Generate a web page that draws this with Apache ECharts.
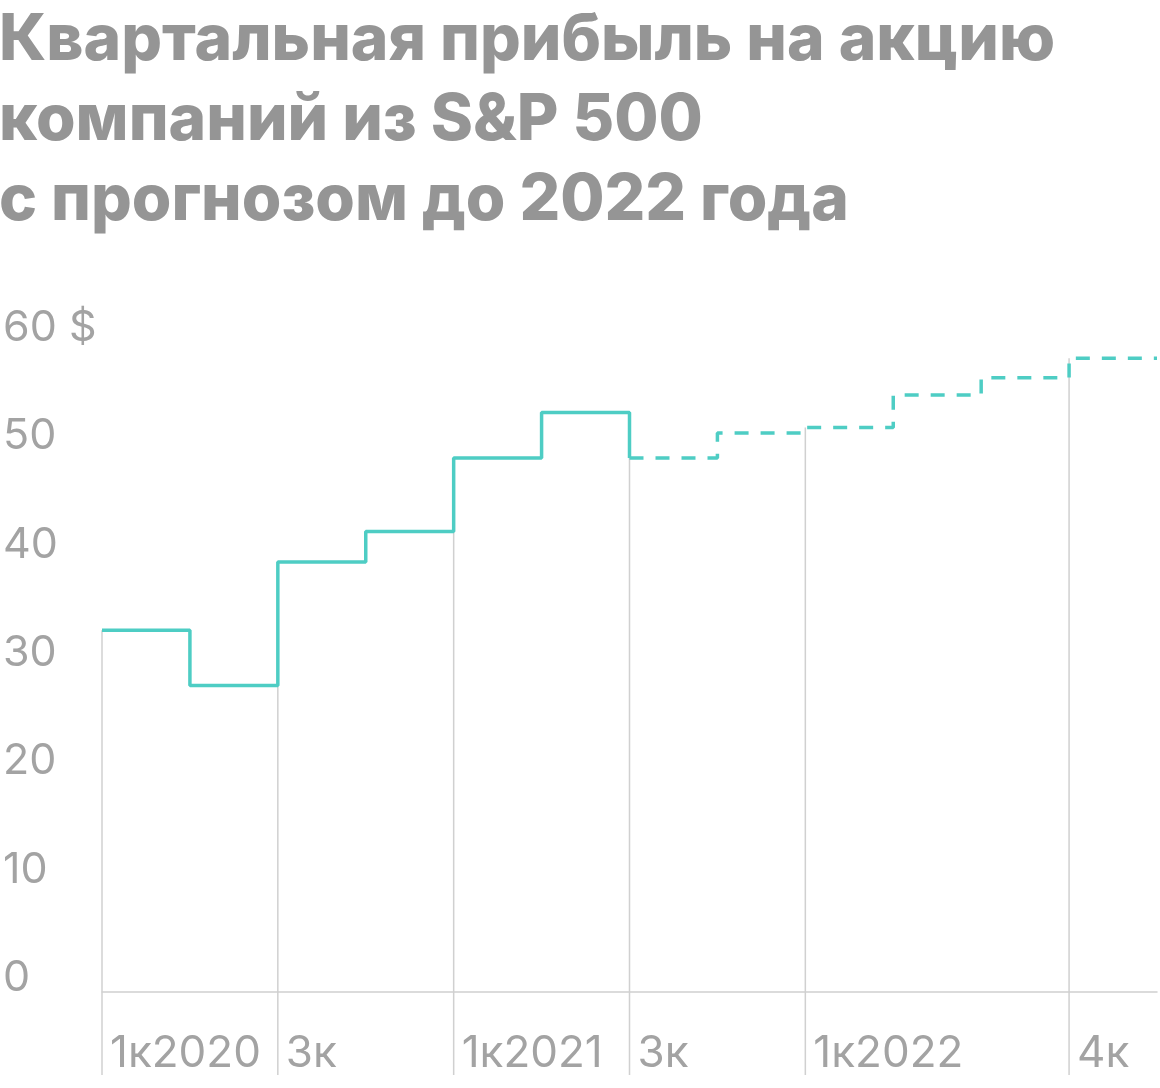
<!DOCTYPE html>
<html><head><meta charset="utf-8">
<script src="https://cdn.jsdelivr.net/npm/echarts@6/dist/echarts.min.js"></script>
<style>html,body{margin:0;padding:0;background:#fff}#c{width:1160px;height:1088px}</style>
</head><body><div id="c"></div>
<script>
const quarters = ['1к2020','2к2020','3к2020','4к2020','1к2021','2к2021','3к2021','4к2021','1к2022','2к2022','3к2022','4к2022'];
const eps = [33.4, 28.3, 39.7, 42.5, 49.3, 53.5, 49.3, 51.6, 52.1, 55.1, 56.7, 58.5];
const actualCount = 6;
const tickLabels = {0:'1к2020', 2:'3к', 4:'1к2021', 6:'3к', 8:'1к2022', 11:'4к'};
const yTicks = [0,10,20,30,40,50,60];
const dividerQuarters = [0,2,4,6,8,11];

const solid = [];
for (let i=0;i<actualCount;i++) solid.push([i, eps[i]]);
solid.push([actualCount, eps[actualCount]]);
const dashed = [];
for (let i=actualCount;i<eps.length;i++) dashed.push([i, eps[i]]);
dashed.push([eps.length, eps[eps.length-1]]);
const dividers = dividerQuarters.map(i => [i, eps[i]]);

const teal = '#4ecdc4';
const chart = echarts.init(document.getElementById('c'));
chart.setOption({
  animation:false,
  title:{text:'Квартальная прибыль на акцию\nкомпаний из S&P 500\nс прогнозом до 2022 года', left:-6, top:-4,
    textStyle:{fontFamily:'Inter', fontWeight:800, fontSize:64, lineHeight:80, color:'#959595'}},
  grid:{left:96, right:0, top:342, bottom:96},
  xAxis:{type:'value', min:0, max:12, interval:1,
    axisLine:{show:true, lineStyle:{color:'#d0d0d0', width:1.5}}, axisTick:{show:false}, splitLine:{show:false},
    axisLabel:{formatter:v=>tickLabels[v]||'', align:'left', margin:40, padding:[0,0,0,8],
      fontFamily:'Inter', fontSize:44, color:'#a3a3a3'}},
  yAxis:{type:'value', min:0, max:60, interval:10,
    axisLine:{show:false}, axisTick:{show:false}, splitLine:{show:false},
    axisLabel:{formatter:v=>v===60?'60 $':String(v), align:'left', margin:99, verticalAlign:'bottom', lineHeight:28,
      fontFamily:'Inter', fontSize:43, color:'#a3a3a3'}},
  series:[
    {type:'custom', data:dividers, clip:false, z:1,
      renderItem:(p,api)=>{const top=api.coord([api.value(0),api.value(1)]);const b=api.coord([api.value(0),0]);
        return {type:'line', shape:{x1:top[0],y1:top[1],x2:top[0],y2:b[1]+83}, style:{stroke:'#d0d0d0', lineWidth:1.5}};}},
    {type:'line', step:'end', data:solid, showSymbol:false, z:3, lineStyle:{color:teal, width:3.5}},
    {type:'line', step:'end', data:dashed, showSymbol:false, z:3, lineStyle:{color:teal, width:3.5, type:[14,12]}}
  ]
});
</script></body></html>
